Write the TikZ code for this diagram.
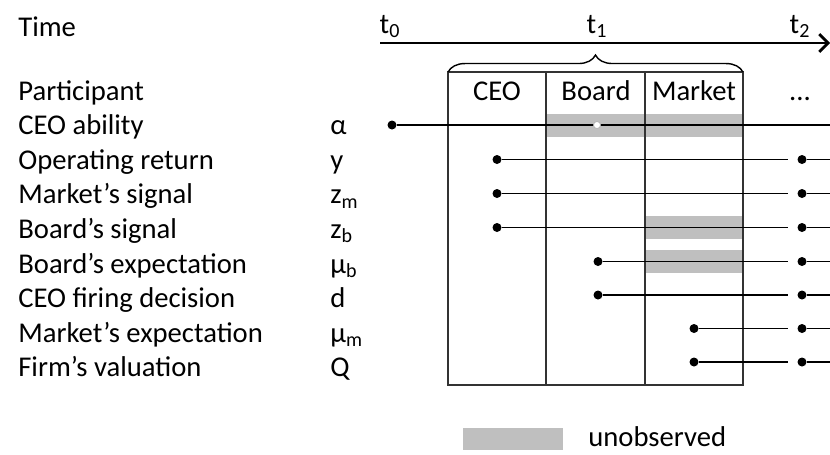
\documentclass[tikz,border=0pt]{standalone}
\usepackage{fontspec}
\setmainfont{Carlito}
\usetikzlibrary{arrows.meta,decorations.pathreplacing,positioning}
\tikzset{
  lbl/.style={anchor=base west, inner sep=0pt},
  hdr/.style={anchor=base, inner sep=0pt},
  col/.style={draw=black!80, line width=1pt, inner sep=0pt, outer sep=0pt,
    minimum width=1.966cm, minimum height=6.26cm},
  dot/.style={circle, fill=black, inner sep=0pt, minimum size=0.18cm},
  hollow/.style={circle, fill=white, draw=black!30, line width=0.4pt, inner sep=0pt, minimum size=0.14cm},
  unobs/.style={fill=black!25},
  row/.style={line width=0.75pt},
}
\begin{document}
\begin{tikzpicture}[x=0.02cm, y=-0.02cm, font=\fontsize{16.3}{19.5}\selectfont]
  \useasboundingbox (0,0) rectangle (830,454);

  % variables
  \node[lbl] (time) at (18,36) {Time};
  \node[lbl] (part) at (18,100) {Participant};
  \node[lbl] (ability) at (18,134.6) {CEO ability};
  \node[lbl] (oper) at (18,169.2) {Operating return};
  \node[lbl] (msig) at (18,203.8) {Market’s signal};
  \node[lbl] (bsig) at (18,238.4) {Board’s signal};
  \node[lbl] (bexp) at (18,273) {Board’s expectation};
  \node[lbl] (fire) at (18,307.6) {CEO firing decision};
  \node[lbl] (mexp) at (18,342.2) {Market’s expectation};
  \node[lbl] (val) at (18,376.8) {Firm’s valuation};

  \node[lbl] (s-alpha) at (330,134.6) {α};
  \node[lbl] (s-y) at (330,169.2) {y};
  \node[lbl] (s-zm) at (330,203.8) {z\textsubscript{m}};
  \node[lbl] (s-zb) at (330,238.4) {z\textsubscript{b}};
  \node[lbl] (s-mub) at (330,273) {μ\textsubscript{b}};
  \node[lbl] (s-d) at (330,307.6) {d};
  \node[lbl] (s-mum) at (330,342.2) {μ\textsubscript{m}};
  \node[lbl] (s-q) at (330,376.8) {Q};

  % time axis
  \coordinate (tstart) at (380,43);
  \coordinate (tend) at (830,43);
  \draw[line width=1.6pt, -{Straight Barb[length=5pt,width=10pt]}] (tstart) -- (tend);
  \node[hdr] (t0) at (390,33) {t\textsubscript{0}};
  \node[hdr] (t1) at (597,33) {t\textsubscript{1}};
  \node[hdr] (t2) at (800,33) {t\textsubscript{2}};

  % unobserved cells
  \fill[unobs] (546,113.5) rectangle (743,136.5);
  \fill[unobs] (645,216) rectangle (743,239);
  \fill[unobs] (645,250) rectangle (743,273);

  % participants
  \node[col] (ceo) at (497.2,228.5) {};
  \node[col, right=0pt of ceo] (board) {};
  \node[col, right=0pt of board] (market) {};
  \draw[decorate, decoration={brace, amplitude=0.34cm}, line width=0.8pt]
    (ceo.north west) -- (market.north east);
  \node[hdr] (h-ceo) at (497,100) {CEO};
  \node[hdr] (h-board) at (596,100) {Board};
  \node[hdr] (h-market) at (694,100) {Market};
  \node[hdr] (h-more) at (800,100) {...};

  % ability
  \node[dot] (alpha-l) at (392,125) {};
  \coordinate (alpha-e) at (830,125);
  \draw[row] (alpha-l) -- (alpha-e);
  \node[hollow] (alpha-m) at (597,125) {};

  % observed from t1 on
  \node[dot] (y-l) at (497,159.5) {};
  \node[dot] (y-r) at (802,159.5) {};
  \coordinate (y-e) at (830,159.5);
  \draw[row, shorten >=0.19cm] (y-l) -- (y-r);
  \draw[row] (y-r) -- (y-e);

  \node[dot] (zm-l) at (497,193.5) {};
  \node[dot] (zm-r) at (802,193.5) {};
  \coordinate (zm-e) at (830,193.5);
  \draw[row, shorten >=0.19cm] (zm-l) -- (zm-r);
  \draw[row] (zm-r) -- (zm-e);

  \node[dot] (zb-l) at (497,227.5) {};
  \node[dot] (zb-r) at (802,227.5) {};
  \coordinate (zb-e) at (830,227.5);
  \draw[row, shorten >=0.19cm] (zb-l) -- (zb-r);
  \draw[row] (zb-r) -- (zb-e);

  \node[dot] (mub-l) at (598,261.5) {};
  \node[dot] (mub-r) at (802,261.5) {};
  \coordinate (mub-e) at (830,261.5);
  \draw[row, shorten >=0.19cm] (mub-l) -- (mub-r);
  \draw[row] (mub-r) -- (mub-e);

  \node[dot] (d-l) at (598,295) {};
  \node[dot] (d-r) at (802,295) {};
  \coordinate (d-e) at (830,295);
  \draw[row, shorten >=0.19cm] (d-l) -- (d-r);
  \draw[row] (d-r) -- (d-e);

  \node[dot] (mum-l) at (694,328.5) {};
  \node[dot] (mum-r) at (802,328.5) {};
  \coordinate (mum-e) at (830,328.5);
  \draw[row, shorten >=0.19cm] (mum-l) -- (mum-r);
  \draw[row] (mum-r) -- (mum-e);

  \node[dot] (q-l) at (694,362) {};
  \node[dot] (q-r) at (802,362) {};
  \coordinate (q-e) at (830,362);
  \draw[row, shorten >=0.19cm] (q-l) -- (q-r);
  \draw[row] (q-r) -- (q-e);

  % key
  \node[unobs, inner sep=0pt, minimum width=2cm, minimum height=0.44cm] (key) at (513,439) {};
  \node[lbl] (keytext) at (588,446) {unobserved};
\end{tikzpicture}
\end{document}
